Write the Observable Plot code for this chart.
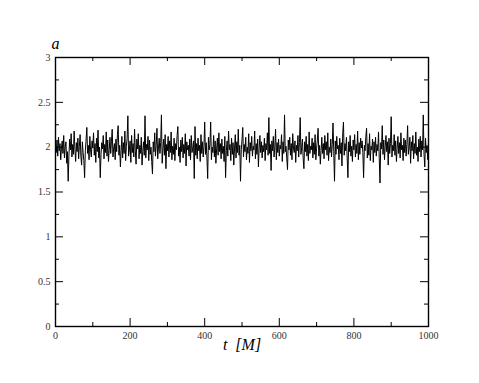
<!DOCTYPE html>
<html><head><meta charset="utf-8">
<script src="https://cdn.jsdelivr.net/npm/d3@7"></script>
<script src="https://cdn.jsdelivr.net/npm/@observablehq/plot@0.6"></script>
<style>
body{margin:0;background:#fff;} svg{display:block;}
</style>
</head><body><div id="chart"></div>
<script>
const timeStep = 2;
const aValues = [
2.02,1.94,2.08,1.90,2.11,1.96,2.04,1.86,1.99,2.07,
1.93,2.13,1.88,2.00,2.06,1.82,1.95,1.62,1.91,2.09,
1.97,2.15,1.89,2.03,1.92,2.18,1.98,1.84,2.05,1.95,
2.10,1.87,2.01,2.14,1.90,1.80,2.06,1.94,1.85,1.66,
1.96,2.08,2.22,1.93,2.02,1.86,2.12,1.97,1.89,2.07,
1.99,2.16,1.91,2.04,1.83,2.10,1.95,2.19,1.88,2.00,
1.66,1.92,2.05,1.98,2.13,1.87,2.03,1.94,2.17,1.90,
2.08,1.84,1.97,2.11,1.93,2.06,2.20,1.89,1.99,2.04,
1.86,2.09,1.95,2.14,2.24,1.91,2.02,1.78,1.96,2.12,
1.88,2.05,1.93,2.18,1.85,2.01,2.10,2.35,1.90,1.97,
2.07,1.83,2.13,1.94,2.04,1.89,2.20,1.96,1.81,2.09,
1.98,2.15,1.87,2.02,1.93,2.11,1.80,1.95,2.06,1.91,
2.35,1.88,2.03,1.97,2.12,1.85,2.08,1.92,2.00,1.84,
1.70,2.06,1.95,2.16,1.90,2.02,2.21,1.87,1.99,2.10,
1.93,2.05,2.36,1.82,1.98,2.09,1.91,2.14,1.76,2.03,
1.96,2.12,1.89,2.07,1.94,2.17,1.86,2.01,1.92,2.10,
1.85,2.04,1.97,2.13,2.23,1.90,2.00,1.83,2.08,1.95,
2.11,1.88,2.03,1.93,2.15,1.79,2.06,1.97,2.02,1.90,
2.09,1.86,2.13,1.94,1.99,2.07,1.65,2.23,1.91,2.04,
1.87,2.10,1.96,2.02,1.84,2.14,1.93,2.06,1.89,2.01,
2.28,1.92,2.05,1.88,1.65,2.11,1.97,2.03,2.28,1.86,
2.00,1.94,2.13,1.89,2.07,1.82,1.98,2.10,1.91,2.16,
1.95,2.04,1.87,2.09,1.93,2.01,1.84,2.12,1.66,1.96,
2.07,1.90,2.18,1.97,2.03,1.85,2.10,1.92,2.05,1.80,
1.99,2.14,1.88,2.06,1.94,2.20,1.91,2.02,1.62,1.97,
2.08,2.22,1.89,2.03,1.95,2.11,1.86,2.00,1.93,2.15,
1.83,2.05,1.96,2.12,1.90,2.01,1.97,2.18,1.87,2.04,
1.92,2.09,1.78,1.99,2.13,1.94,2.06,1.88,2.02,1.95,
2.10,1.85,2.04,1.97,2.16,1.91,2.33,1.93,2.03,1.74,
2.07,1.96,2.12,1.89,2.00,2.20,1.86,2.05,1.94,2.09,
1.90,2.02,1.98,2.14,1.84,2.06,1.93,2.36,1.95,2.01,
1.88,1.75,2.08,1.97,2.11,1.91,2.04,1.86,2.15,1.99,
1.94,2.07,1.83,2.02,1.96,2.13,1.89,2.05,2.33,1.92,
2.00,2.09,1.87,1.76,2.06,1.95,2.12,1.90,2.03,1.85,
2.17,1.93,2.01,1.97,2.10,1.88,2.05,1.92,2.14,1.86,
1.99,2.08,2.21,1.90,2.02,1.81,1.96,2.11,1.93,2.04,
1.87,2.13,1.97,2.06,1.91,2.16,1.85,2.00,1.94,2.09,
1.89,2.03,2.27,1.95,1.62,2.07,1.92,2.12,1.98,2.02,
1.86,2.10,1.93,2.05,1.79,2.15,2.28,1.91,2.04,1.96,
2.11,1.88,1.66,2.06,1.95,2.13,1.90,2.01,1.84,2.08,
1.97,2.14,1.89,2.03,1.93,2.18,1.86,2.05,1.92,2.10,
1.99,2.07,1.94,1.66,2.02,1.96,2.12,2.21,1.88,2.04,
1.91,2.15,1.85,2.01,1.97,2.09,1.83,2.06,1.94,2.11,
1.90,2.03,1.96,2.17,1.87,1.60,2.05,1.98,2.24,1.92,
2.08,1.86,2.01,2.13,1.95,2.06,1.80,2.10,1.93,2.04,
2.34,1.89,2.02,1.96,2.14,1.91,2.07,1.84,1.99,2.12,
1.93,2.05,1.88,2.16,1.97,2.02,1.85,2.10,1.94,2.08,
1.90,2.03,2.24,1.92,1.99,2.11,1.82,2.06,1.96,2.13,
1.87,2.04,1.93,2.17,1.91,2.00,1.84,2.09,1.95,2.12,
1.89,2.07,1.97,2.36,1.92,1.78,2.10,1.94,2.02,1.86,
2.05
];
const xMajor = [0,200,400,600,800,1000];
const xMinor = [100,300,500,700,900];
const yMajor = [0,0.5,1,1.5,2,2.5,3];
const yMinor = [0.25,0.75,1.25,1.75,2.25,2.75];
const titleText = "a";
const xLabelText = "t  [M]";

const data = aValues.map((v,i)=>({t:i*timeStep, a:v}));

const W = 479, H = 383;
const mL = 55, mR = 51, mT = 57, mB = 57;
const fw = W - mL - mR, fh = H - mT - mB;
const font = "'Liberation Serif', 'Times New Roman', serif";
const majorLen = 8, minorLen = 4;

const plot = Plot.plot({
  width: W, height: H,
  marginLeft: mL, marginRight: mR, marginTop: mT, marginBottom: mB,
  style: {fontFamily: font, background: "#fff"},
  x: {domain: [0,1000], label: null},
  y: {domain: [0,3], label: null},
  marks: [
    Plot.line(data, {x: "t", y: "a", stroke: "#000", strokeWidth: 1}),
    Plot.tickX(xMajor, {x: d=>d, insetTop: fh - majorLen, stroke: "#000"}),
    Plot.tickX(xMajor, {x: d=>d, insetBottom: fh - majorLen, stroke: "#000"}),
    Plot.tickX(xMinor, {x: d=>d, insetTop: fh - minorLen, stroke: "#000"}),
    Plot.tickX(xMinor, {x: d=>d, insetBottom: fh - minorLen, stroke: "#000"}),
    Plot.tickY(yMajor, {y: d=>d, insetRight: fw - majorLen, stroke: "#000"}),
    Plot.tickY(yMajor, {y: d=>d, insetLeft: fw - majorLen, stroke: "#000"}),
    Plot.tickY(yMinor, {y: d=>d, insetRight: fw - minorLen, stroke: "#000"}),
    Plot.tickY(yMinor, {y: d=>d, insetLeft: fw - minorLen, stroke: "#000"}),
    Plot.frame({stroke: "#000", strokeWidth: 1.4}),
    Plot.axisX({ticks: xMajor, tickSize: 0, tickPadding: 5, tickFormat: d=>String(d), fontSize: 10, fontFamily: font, fill: "#333", label: null}),
    Plot.axisY({ticks: yMajor, tickSize: 0, tickPadding: 5, tickFormat: d=>String(d), fontSize: 10, fontFamily: font, fill: "#333", label: null}),
    Plot.text([titleText], {text: d=>d, frameAnchor: "top-left", dy: -20, fontSize: 16, fontFamily: font, fontStyle: "italic", textAnchor: "middle", fill: "#000"}),
    Plot.text([xLabelText], {text: d=>d, frameAnchor: "bottom", dy: 23, fontSize: 16, fontFamily: font, fontStyle: "italic", textAnchor: "middle", fill: "#000"})
  ]
});
document.getElementById("chart").appendChild(plot);
</script>
</body></html>
